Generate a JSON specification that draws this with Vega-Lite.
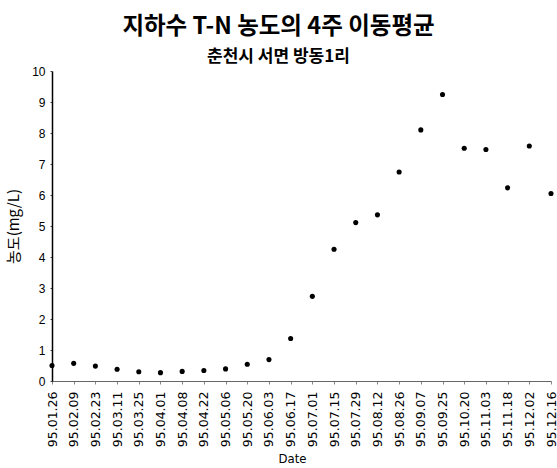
{
  "$schema": "https://vega.github.io/schema/vega-lite/v6.json",
  "autosize": "none",
  "width": 499,
  "height": 310,
  "padding": {"left": 52, "top": 71, "right": 6, "bottom": 87},
  "background": "white",
  "config": {"view": {"stroke": null}, "font": "Liberation Sans"},
  "title": {
    "text": "지하수 T-N 농도의 4주 이동평균",
    "subtitle": "춘천시 서면 방동1리",
    "anchor": "middle",
    "dx": -23,
    "font": "Noto Sans CJK KR",
    "fontSize": 23.5,
    "fontWeight": "bold",
    "color": "black",
    "subtitleFont": "Noto Sans CJK KR",
    "subtitleFontSize": 17,
    "subtitleFontWeight": "bold",
    "subtitleColor": "black",
    "subtitlePadding": 11,
    "offset": 0
  },
  "data": {
    "values": [
      {"date": "95.01.26", "tn": 0.50},
      {"date": "95.02.09", "tn": 0.57},
      {"date": "95.02.23", "tn": 0.48},
      {"date": "95.03.11", "tn": 0.38},
      {"date": "95.03.25", "tn": 0.30},
      {"date": "95.04.01", "tn": 0.27},
      {"date": "95.04.08", "tn": 0.31},
      {"date": "95.04.22", "tn": 0.34},
      {"date": "95.05.06", "tn": 0.39},
      {"date": "95.05.20", "tn": 0.54},
      {"date": "95.06.03", "tn": 0.69},
      {"date": "95.06.17", "tn": 1.37},
      {"date": "95.07.01", "tn": 2.73},
      {"date": "95.07.15", "tn": 4.25},
      {"date": "95.07.29", "tn": 5.11},
      {"date": "95.08.12", "tn": 5.36},
      {"date": "95.08.26", "tn": 6.74},
      {"date": "95.09.07", "tn": 8.10},
      {"date": "95.09.25", "tn": 9.24},
      {"date": "95.10.20", "tn": 7.51},
      {"date": "95.11.03", "tn": 7.47},
      {"date": "95.11.18", "tn": 6.23},
      {"date": "95.12.02", "tn": 7.58},
      {"date": "95.12.16", "tn": 6.05}
    ]
  },
  "mark": {"type": "point", "filled": true, "color": "black", "opacity": 1, "size": 26},
  "encoding": {
    "x": {
      "field": "date",
      "type": "ordinal",
      "scale": {"type": "point", "padding": 0},
      "axis": {
        "title": "Date",
        "titleFont": "DejaVu Sans Condensed",
        "titleFontSize": 13,
        "titleFontWeight": "normal",
        "titleColor": "black",
        "titlePadding": 6,
        "titleX": 240,
        "labelFont": "DejaVu Sans",
        "labelAngle": -90,
        "labelFontSize": 12.5,
        "labelColor": "black",
        "labelPadding": 7,
        "tickSize": 3,
        "tickColor": "#888",
        "domainColor": "#666",
        "domainWidth": 1
      }
    },
    "y": {
      "field": "tn",
      "type": "quantitative",
      "scale": {"domain": [0, 10], "nice": false},
      "axis": {
        "title": "농도(mg/L)",
        "titleFont": "Noto Sans CJK KR",
        "titleFontSize": 15,
        "titleFontWeight": "normal",
        "titleColor": "black",
        "titlePadding": 10,
        "values": [0,1,2,3,4,5,6,7,8,9,10],
        "labelFont": "Liberation Sans",
        "labelFontSize": 12,
        "labelColor": "black",
        "labelPadding": 5,
        "tickSize": 2,
        "tickColor": "#444",
        "domainColor": "black",
        "domainWidth": 1.5,
        "grid": false
      }
    }
  }
}
